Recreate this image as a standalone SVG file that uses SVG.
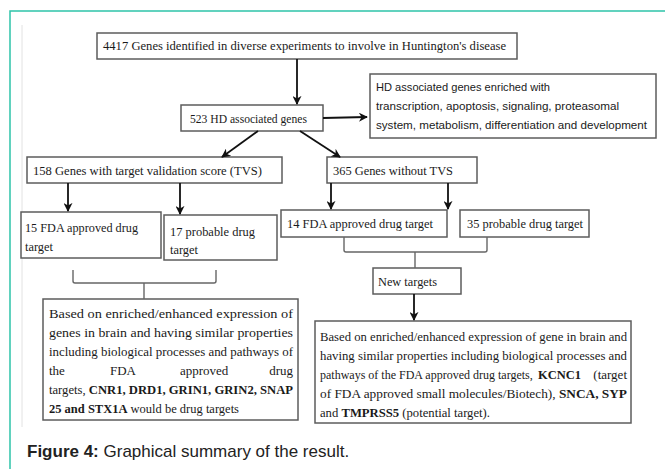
<svg xmlns="http://www.w3.org/2000/svg" width="665" height="469" viewBox="0 0 665 469">
<defs>
<style>
.bx{fill:#fff;stroke:#5c5c5c;stroke-width:1.5}
.t{font-family:"Liberation Serif","DejaVu Serif",serif;font-size:13px;fill:#1a1a1a}
.s{font-family:"Liberation Sans","Noto Sans",sans-serif;font-size:11.5px;fill:#1a1a1a}
.b{font-weight:bold}
.ln{fill:none;stroke:#111;stroke-width:1.8}
.br{fill:none;stroke:#666;stroke-width:1.4;stroke-linejoin:round}
</style>
<marker id="ah" viewBox="0 0 10 10" refX="9" refY="5" markerWidth="9" markerHeight="9" markerUnits="userSpaceOnUse" orient="auto">
<path d="M0,0 L10,5 L0,10 L3,5 z" fill="#111"/>
</marker>
</defs>
<rect width="665" height="469" fill="#fff"/>
<path d="M10,469 V11 H665" fill="none" stroke="#2ec4a9" stroke-width="1.5"/>
<line x1="22" y1="25" x2="22" y2="427" stroke="#e2e2e2" stroke-width="1"/>

<g id="n1"><rect class="bx" x="97" y="33" width="420" height="26"/>
<text class="t" x="103" y="50" textLength="403" lengthAdjust="spacingAndGlyphs">4417  Genes identified in diverse experiments to involve in Huntington's disease</text></g>

<g id="n2"><rect class="bx" x="181" y="105" width="142" height="26"/>
<text class="t" x="190" y="123" textLength="117" lengthAdjust="spacingAndGlyphs">523 HD associated genes</text></g>

<g id="n3"><rect class="bx" x="370" y="74" width="286" height="64"/>
<text class="s" x="376" y="91" textLength="174" lengthAdjust="spacingAndGlyphs">HD associated genes enriched with</text>
<text class="s" x="376" y="110" textLength="243" lengthAdjust="spacingAndGlyphs">transcription, apoptosis, signaling, proteasomal</text>
<text class="s" x="376" y="129" textLength="271" lengthAdjust="spacingAndGlyphs">system, metabolism, differentiation and development</text></g>

<g id="n4"><rect class="bx" x="27" y="157" width="255" height="26"/>
<text class="t" x="33" y="175" textLength="229" lengthAdjust="spacingAndGlyphs">158  Genes with target validation score (TVS)</text></g>

<g id="n5"><rect class="bx" x="327" y="157" width="150" height="26"/>
<text class="t" x="333" y="175" textLength="120" lengthAdjust="spacingAndGlyphs">365 Genes without TVS</text></g>

<g id="n6"><rect class="bx" x="21" y="212" width="140" height="46"/>
<text class="t" x="25" y="232" textLength="113" lengthAdjust="spacingAndGlyphs">15 FDA approved drug</text>
<text class="t" x="25" y="251" textLength="28" lengthAdjust="spacingAndGlyphs">target</text></g>

<g id="n7"><rect class="bx" x="164" y="215" width="113" height="45"/>
<text class="t" x="170" y="236" textLength="85" lengthAdjust="spacingAndGlyphs">17 probable drug</text>
<text class="t" x="170" y="254" textLength="28" lengthAdjust="spacingAndGlyphs">target</text></g>

<g id="n8"><rect class="bx" x="281" y="210" width="166" height="27"/>
<text class="t" x="287" y="228" textLength="146" lengthAdjust="spacingAndGlyphs">14 FDA approved drug target</text></g>

<g id="n9"><rect class="bx" x="460" y="210" width="129" height="27"/>
<text class="t" x="467" y="228" textLength="116" lengthAdjust="spacingAndGlyphs">35 probable drug target</text></g>

<g id="n10"><rect class="bx" x="373" y="268" width="88" height="26"/>
<text class="t" x="378" y="286" textLength="59" lengthAdjust="spacingAndGlyphs">New targets</text></g>

<g id="n11"><rect class="bx" x="43" y="299" width="255" height="121"/>
<text class="t" x="49" y="318" textLength="244" lengthAdjust="spacingAndGlyphs">Based  on  enriched/enhanced  expression  of</text>
<text class="t" x="49" y="337" textLength="244" lengthAdjust="spacingAndGlyphs">genes in brain and having similar properties</text>
<text class="t" x="49" y="356" textLength="244" lengthAdjust="spacingAndGlyphs">including biological processes and pathways of</text>
<text class="t" x="49" y="375">the</text><text class="t" x="110" y="375">FDA</text><text class="t" x="180" y="375">approved</text><text class="t" x="293" y="375" text-anchor="end">drug</text>
<text class="t" x="49" y="394" textLength="244" lengthAdjust="spacingAndGlyphs">targets, <tspan class="b">CNR1, DRD1, GRIN1, GRIN2, SNAP</tspan></text>
<text class="t" x="49" y="413" textLength="190" lengthAdjust="spacingAndGlyphs"><tspan class="b">25 and STX1A</tspan> would be drug targets</text></g>

<g id="n12"><rect class="bx" x="315" y="321" width="316" height="102"/>
<text class="t" x="320" y="341" textLength="307" lengthAdjust="spacingAndGlyphs">Based on enriched/enhanced expression of gene in brain and</text>
<text class="t" x="320" y="360" textLength="307" lengthAdjust="spacingAndGlyphs">having similar properties including biological processes and</text>
<text class="t" x="320" y="379" style="font-size:12px">pathways of the FDA approved drug targets,</text>
<text class="t b" x="538" y="379" style="font-size:12.5px">KCNC1</text>
<text class="t" x="627" y="379" text-anchor="end">(target</text>
<text class="t" x="320" y="398" textLength="307" lengthAdjust="spacingAndGlyphs">of  FDA  approved  small  molecules/Biotech),  <tspan class="b">SNCA,  SYP</tspan></text>
<text class="t" x="320" y="417" textLength="170" lengthAdjust="spacingAndGlyphs">and <tspan class="b">TMPRSS5</tspan> (potential target).</text></g>

<g id="connectors">
<line class="ln" x1="297" y1="59" x2="297" y2="104" marker-end="url(#ah)"/>
<line class="ln" x1="323" y1="118" x2="367" y2="117" marker-end="url(#ah)"/>
<line class="ln" x1="258" y1="131" x2="222" y2="157" marker-end="url(#ah)"/>
<line class="ln" x1="300" y1="131" x2="340" y2="157" marker-end="url(#ah)"/>
<line class="ln" x1="68" y1="183" x2="68" y2="211" marker-end="url(#ah)"/>
<line class="ln" x1="180" y1="183" x2="180" y2="214" marker-end="url(#ah)"/>
<line class="ln" x1="331" y1="183" x2="331" y2="209" marker-end="url(#ah)"/>
<line class="ln" x1="448" y1="183" x2="448" y2="209" marker-end="url(#ah)"/>
<path class="br" d="M73,270 V281 Q73,283 75,283 H214 Q216,283 216,281 V270"/>
<line class="br" x1="144" y1="283" x2="144" y2="299"/>
<path class="br" d="M344,237 V250 Q344,252 346,252 H485 Q487,252 487,250 V237"/>
<line class="br" x1="415" y1="252" x2="415" y2="268"/>
<line class="ln" x1="414" y1="294" x2="414" y2="320" marker-end="url(#ah)"/>
</g>

<text x="27" y="457" font-family="'Liberation Sans',Arial,sans-serif" font-size="17" fill="#222"><tspan font-weight="bold">Figure 4:</tspan> Graphical summary of the result.</text>
</svg>
